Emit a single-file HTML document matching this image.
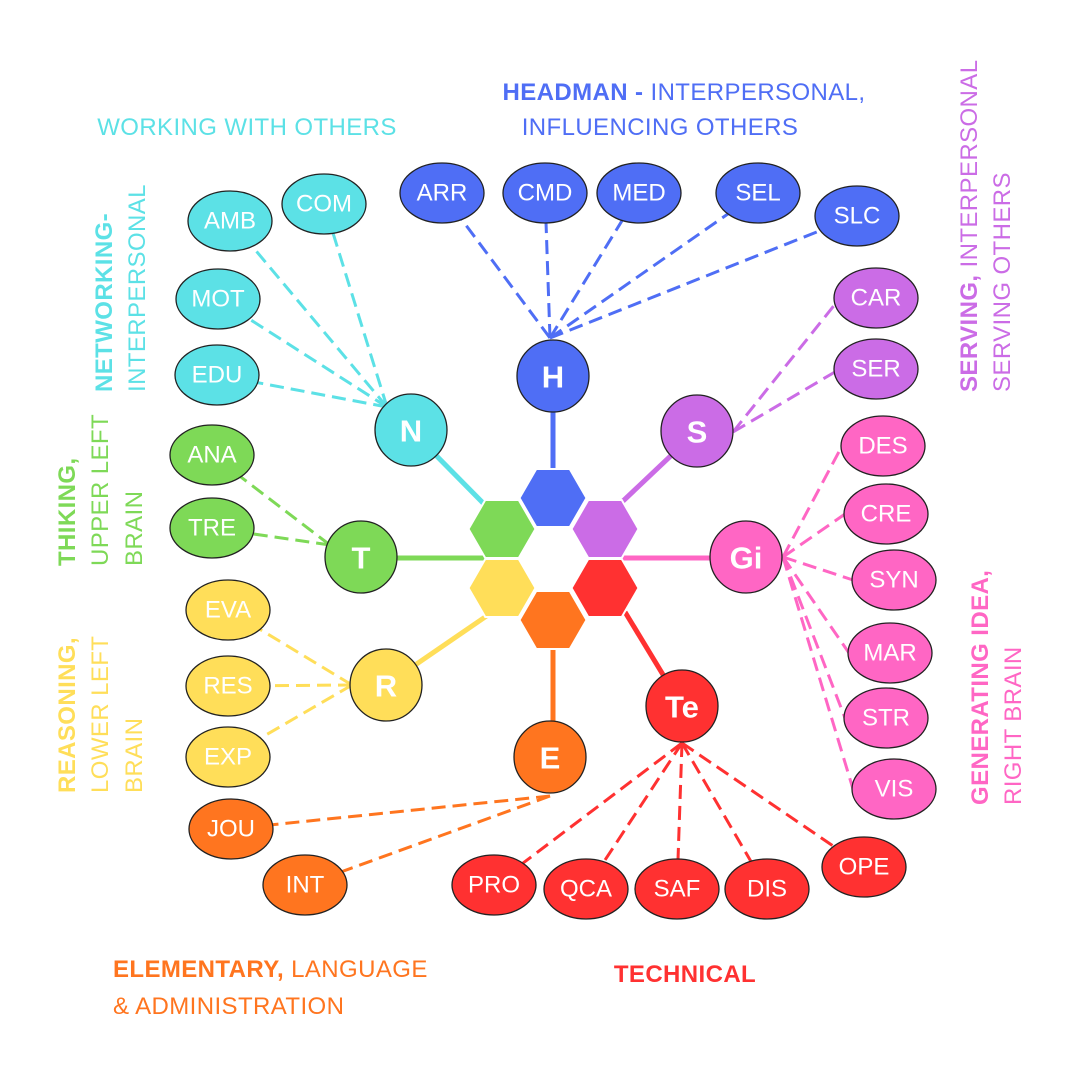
<!DOCTYPE html>
<html><head><meta charset="utf-8"><style>
html,body{margin:0;padding:0;background:#fff;}
svg{display:block;font-family:"Liberation Sans",sans-serif;}
.n{fill:#fff;font-size:24px;text-anchor:middle;dominant-baseline:central;}
.c{fill:#fff;font-size:31px;font-weight:bold;text-anchor:middle;dominant-baseline:central;}
.lbl{font-size:24px;letter-spacing:0.4px;}
</style></head><body>
<svg width="1080" height="1080" viewBox="0 0 1080 1080" xmlns="http://www.w3.org/2000/svg">
<defs>
<polygon id="hx" points="-33.5,0 -16.75,-29 16.75,-29 33.5,0 16.75,29 -16.75,29"/>
</defs>
<g stroke-width="5">
<line x1="553" y1="376" x2="553" y2="470" stroke="#4f6ef5"/>
<line x1="411" y1="430" x2="485" y2="505" stroke="#5ce1e6"/>
<line x1="361" y1="558" x2="485" y2="558" stroke="#7ed957"/>
<line x1="386" y1="685" x2="488" y2="615" stroke="#ffde59"/>
<line x1="553" y1="640" x2="553" y2="757" stroke="#ff751f"/>
<line x1="682" y1="706" x2="625" y2="612" stroke="#ff3131"/>
<line x1="746" y1="558" x2="612" y2="558" stroke="#ff66c4"/>
<line x1="697" y1="431" x2="622" y2="502" stroke="#cb6ce6"/>
</g>
<g stroke="#fff" stroke-width="2">
<use href="#hx" x="553" y="498" fill="#4f6ef5"/>
<use href="#hx" x="502" y="529" fill="#7ed957"/>
<use href="#hx" x="605" y="529" fill="#cb6ce6"/>
<use href="#hx" x="502" y="588" fill="#ffde59"/>
<use href="#hx" x="605" y="588" fill="#ff3131"/>
<use href="#hx" x="553" y="620" fill="#ff751f"/>
</g>
<g stroke-width="3" stroke-dasharray="14,7" fill="none">
<g stroke="#4f6ef5">
<line x1="550" y1="338" x2="442" y2="193"/><line x1="550" y1="338" x2="545" y2="193"/><line x1="550" y1="338" x2="639" y2="193"/><line x1="550" y1="338" x2="758" y2="193"/><line x1="550" y1="338" x2="857" y2="216"/>
</g>
<g stroke="#5ce1e6">
<line x1="387" y1="407" x2="324" y2="204"/><line x1="387" y1="407" x2="231" y2="221"/><line x1="387" y1="407" x2="218" y2="299"/><line x1="387" y1="407" x2="217" y2="375"/>
</g>
<g stroke="#7ed957">
<line x1="330" y1="545" x2="212" y2="455"/><line x1="330" y1="545" x2="212" y2="528"/>
</g>
<g stroke="#ffde59">
<line x1="352" y1="685" x2="228" y2="610"/><line x1="352" y1="685" x2="228" y2="686"/><line x1="352" y1="685" x2="228" y2="757"/>
</g>
<g stroke="#ff751f">
<line x1="550" y1="796" x2="231" y2="829"/><line x1="550" y1="796" x2="305" y2="885"/>
</g>
<g stroke="#ff3131">
<line x1="682" y1="743" x2="494" y2="885"/><line x1="682" y1="743" x2="586" y2="889"/><line x1="682" y1="743" x2="677" y2="889"/><line x1="682" y1="743" x2="767" y2="889"/><line x1="682" y1="743" x2="864" y2="867"/>
</g>
<g stroke="#ff66c4">
<line x1="783" y1="557" x2="842" y2="446"/><line x1="783" y1="557" x2="845" y2="514"/><line x1="783" y1="557" x2="853" y2="580"/><line x1="783" y1="557" x2="849" y2="653"/><line x1="783" y1="557" x2="845" y2="718"/><line x1="783" y1="557" x2="853" y2="789"/>
</g>
<g stroke="#cb6ce6">
<line x1="733" y1="432" x2="840" y2="298"/><line x1="733" y1="432" x2="840" y2="369"/>
</g>
</g>
<g stroke="#222" stroke-width="1.3">
<g fill="#4f6ef5">
<ellipse cx="442" cy="193" rx="42" ry="30"/><ellipse cx="545" cy="193" rx="42" ry="30"/><ellipse cx="639" cy="193" rx="42" ry="30"/><ellipse cx="758" cy="193" rx="42" ry="30"/><ellipse cx="857" cy="216" rx="42" ry="30"/>
</g>
<g fill="#5ce1e6">
<ellipse cx="324" cy="204" rx="42" ry="30"/><ellipse cx="230" cy="221" rx="42" ry="30"/><ellipse cx="218" cy="299" rx="42" ry="30"/><ellipse cx="217" cy="375" rx="42" ry="30"/>
</g>
<g fill="#7ed957">
<ellipse cx="212" cy="455" rx="42" ry="30"/><ellipse cx="212" cy="528" rx="42" ry="30"/>
</g>
<g fill="#ffde59">
<ellipse cx="228" cy="610" rx="42" ry="30"/><ellipse cx="228" cy="686" rx="42" ry="30"/><ellipse cx="228" cy="757" rx="42" ry="30"/>
</g>
<g fill="#ff751f">
<ellipse cx="231" cy="829" rx="42" ry="30"/><ellipse cx="305" cy="885" rx="42" ry="30"/>
</g>
<g fill="#ff3131">
<ellipse cx="494" cy="885" rx="42" ry="30"/><ellipse cx="586" cy="889" rx="42" ry="30"/><ellipse cx="677" cy="889" rx="42" ry="30"/><ellipse cx="767" cy="889" rx="42" ry="30"/><ellipse cx="864" cy="867" rx="42" ry="30"/>
</g>
<g fill="#ff66c4">
<ellipse cx="883" cy="446" rx="42" ry="30"/><ellipse cx="886" cy="514" rx="42" ry="30"/><ellipse cx="894" cy="580" rx="42" ry="30"/><ellipse cx="890" cy="653" rx="42" ry="30"/><ellipse cx="886" cy="718" rx="42" ry="30"/><ellipse cx="894" cy="789" rx="42" ry="30"/>
</g>
<g fill="#cb6ce6">
<ellipse cx="876" cy="298" rx="42" ry="30"/><ellipse cx="876" cy="369" rx="42" ry="30"/>
</g>
<circle cx="553" cy="376" r="36" fill="#4f6ef5"/>
<circle cx="411" cy="430" r="36" fill="#5ce1e6"/>
<circle cx="361" cy="557" r="36" fill="#7ed957"/>
<circle cx="386" cy="685" r="36" fill="#ffde59"/>
<circle cx="550" cy="757" r="36" fill="#ff751f"/>
<circle cx="682" cy="706" r="36" fill="#ff3131"/>
<circle cx="746" cy="557" r="36" fill="#ff66c4"/>
<circle cx="697" cy="431" r="36" fill="#cb6ce6"/>
</g>
<g class="n">
<text x="442" y="193">ARR</text><text x="545" y="193">CMD</text><text x="639" y="193">MED</text><text x="758" y="193">SEL</text><text x="857" y="216">SLC</text>
<text x="324" y="204">COM</text><text x="230" y="221">AMB</text><text x="218" y="299">MOT</text><text x="217" y="375">EDU</text>
<text x="212" y="455">ANA</text><text x="212" y="528">TRE</text>
<text x="228" y="610">EVA</text><text x="228" y="686">RES</text><text x="228" y="757">EXP</text>
<text x="231" y="829">JOU</text><text x="305" y="885">INT</text>
<text x="494" y="885">PRO</text><text x="586" y="889">QCA</text><text x="677" y="889">SAF</text><text x="767" y="889">DIS</text><text x="864" y="867">OPE</text>
<text x="883" y="446">DES</text><text x="886" y="514">CRE</text><text x="894" y="580">SYN</text><text x="890" y="653">MAR</text><text x="886" y="718">STR</text><text x="894" y="789">VIS</text>
<text x="876" y="298">CAR</text><text x="876" y="369">SER</text>
</g>
<g class="c">
<text x="553" y="377">H</text><text x="411" y="431">N</text><text x="361" y="558">T</text><text x="386" y="686">R</text><text x="550" y="758">E</text><text x="682" y="707">Te</text><text x="746" y="558">Gi</text><text x="697" y="432">S</text>
</g>
<g class="lbl">
<text x="684" y="100" text-anchor="middle" fill="#4f6ef5"><tspan font-weight="bold">HEADMAN - </tspan>INTERPERSONAL,</text>
<text x="660" y="135" text-anchor="middle" fill="#4f6ef5">INFLUENCING OTHERS</text>
<text x="247" y="135" text-anchor="middle" fill="#5ce1e6">WORKING WITH OTHERS</text>
<text x="113" y="977" fill="#ff751f"><tspan font-weight="bold">ELEMENTARY, </tspan>LANGUAGE</text>
<text x="113" y="1014" fill="#ff751f">&amp; ADMINISTRATION</text>
<text x="685" y="982" text-anchor="middle" fill="#ff3131" font-weight="bold">TECHNICAL</text>
<g transform="translate(112,392) rotate(-90)" fill="#5ce1e6"><text x="0" y="0" font-weight="bold">NETWORKING-</text><text x="0" y="33">INTERPERSONAL</text></g>
<g transform="translate(75,566) rotate(-90)" fill="#7ed957"><text x="0" y="0" font-weight="bold">THIKING,</text><text x="0" y="33">UPPER LEFT</text><text x="0" y="67">BRAIN</text></g>
<g transform="translate(75,793) rotate(-90)" fill="#ffde59"><text x="0" y="0" font-weight="bold">REASONING,</text><text x="0" y="33">LOWER LEFT</text><text x="0" y="67">BRAIN</text></g>
<g transform="translate(977,392) rotate(-90)" fill="#cb6ce6"><text x="0" y="0"><tspan font-weight="bold">SERVING, </tspan>INTERPERSONAL</text><text x="0" y="33">SERVING OTHERS</text></g>
<g transform="translate(988,805) rotate(-90)" fill="#ff66c4"><text x="0" y="0" font-weight="bold">GENERATING IDEA,</text><text x="0" y="33">RIGHT BRAIN</text></g>
</g>
</svg>
</body></html>
